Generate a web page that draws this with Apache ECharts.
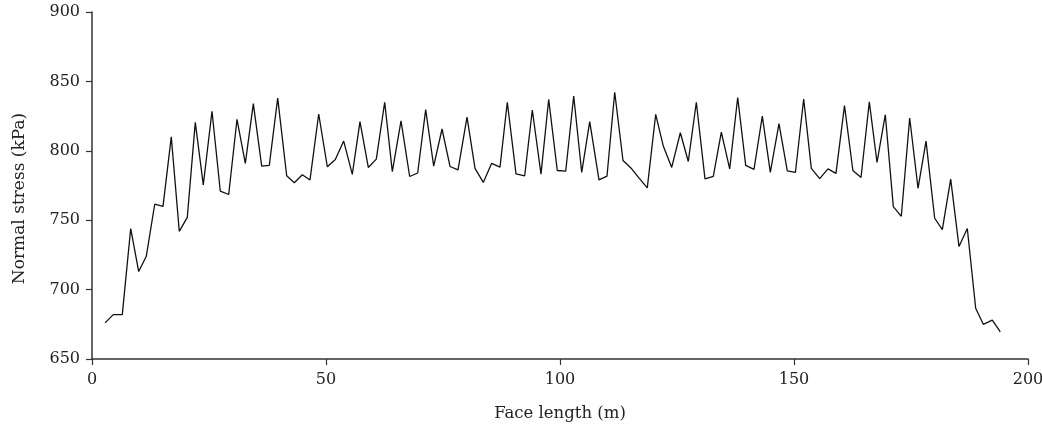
<!DOCTYPE html>
<html>
<head>
<meta charset="utf-8">
<script src="https://cdn.jsdelivr.net/npm/echarts@6/dist/echarts.min.js"></script>
<style>
html, body { margin: 0; padding: 0; background: #fff; }
#chart { width: 1042px; height: 430px; }
</style>
</head>
<body>
<div id="chart"></div>
<script>
// face length (m) of each point
var faceLength = [
    2.78, 4.55, 6.47, 8.27, 9.98, 11.6, 13.4, 15.17, 16.94, 18.65,
    20.36, 22.07, 23.78, 25.64, 27.41, 29.21, 30.98, 32.76, 34.47, 36.26,
    37.88, 39.68, 41.6, 43.23, 44.94, 46.58, 48.44, 50.28, 51.99, 53.78,
    55.62, 57.26, 59.04, 60.75, 62.54, 64.17, 66.03, 67.88, 69.59, 71.3,
    73.01, 74.79, 76.5, 78.21, 80.13, 81.84, 83.61, 85.4, 87.18, 88.74,
    90.6, 92.46, 94.08, 95.94, 97.58, 99.42, 101.22, 102.93, 104.64, 106.35,
    108.33, 110.04, 111.69, 113.46, 115.32, 116.99, 118.65, 120.45, 122.07, 123.87,
    125.71, 127.41, 129.13, 130.98, 132.76, 134.47, 136.26, 137.97, 139.68, 141.45,
    143.23, 144.94, 146.79, 148.57, 150.3, 152.07, 153.7, 155.49, 157.26, 158.97,
    160.79, 162.58, 164.32, 166.09, 167.74, 169.51, 171.22, 172.93, 174.72, 176.5,
    178.21, 180.06, 181.69, 183.48, 185.26, 187.03, 188.82, 190.45, 192.37, 194.08
];
// normal stress (kPa)
var normalStress = [
    676, 682, 682, 744, 713, 724, 761.5, 760, 810, 742,
    752, 820.5, 775.5, 828.5, 771, 768.5, 822.7, 791, 834, 789,
    789.5, 838, 782, 777, 782.7, 779, 826.5, 788.5, 793.8, 807,
    783, 821, 788, 794, 835, 785, 821.5, 781.5, 784, 829.7,
    789, 815.7, 788.7, 786.3, 824.3, 787.3, 777.2, 791, 788.2, 835,
    783.4, 782, 829.4, 783.2, 837, 785.8, 785.3, 839.5, 784.4, 821,
    779, 781.7, 842.2, 793, 787, 780, 773.3, 826.3, 803.4, 788,
    813, 792.3, 835, 779.8, 781.5, 813.5, 787, 838.4, 789.5, 786.6,
    825, 784.4, 819.6, 785.6, 784.4, 837.3, 787.3, 780, 787, 783.7,
    832.6, 785.8, 780.8, 835.2, 791.6, 826, 759.8, 752.8, 823.6, 773,
    807, 751.4, 743.2, 779.6, 731, 744, 686.6, 675, 678, 669.5
];

var chart = echarts.init(document.getElementById('chart'));
var font = '"DejaVu Serif", "Liberation Serif", serif';
var axisCol = '#333';

var pts = [];
for (var i = 0; i < faceLength.length; i++) {
    pts.push([faceLength[i], normalStress[i]]);
}

var option = {
    animation: false,
    grid: { left: 92, right: 14, top: 12, bottom: 71, outerBoundsMode: 'none', containLabel: false },
    xAxis: {
        type: 'value',
        min: 0, max: 200, interval: 50,
        name: 'Face length (m)',
        nameLocation: 'middle',
        nameGap: 46,
        nameTextStyle: { fontFamily: font, fontSize: 16.5, color: '#222' },
        axisLine: { show: true, onZero: false, lineStyle: { color: axisCol, width: 1.5 } },
        axisTick: { show: true, length: 6, lineStyle: { color: axisCol, width: 1.2 } },
        axisLabel: { fontFamily: font, fontSize: 16, color: '#222', margin: 13 },
        splitLine: { show: false }
    },
    yAxis: {
        type: 'value',
        min: 650, max: 900, interval: 50,
        name: 'Normal stress (kPa)',
        nameLocation: 'middle',
        nameGap: 64,
        // nudge name a little lower, as in the original
        nameTextStyle: { fontFamily: font, fontSize: 17, color: '#222', padding: [0, 26, 0, 0] },
        axisLine: { show: true, lineStyle: { color: axisCol, width: 1.5 } },
        axisTick: { show: true, length: 6, lineStyle: { color: axisCol, width: 1.2 } },
        axisLabel: { fontFamily: font, fontSize: 16, color: '#222', margin: 12 },
        splitLine: { show: false }
    },
    series: [{
        type: 'line',
        data: pts,
        symbol: 'none',
        lineStyle: { color: '#111', width: 1.3 }
    }]
};
chart.setOption(option);
</script>
</body>
</html>
